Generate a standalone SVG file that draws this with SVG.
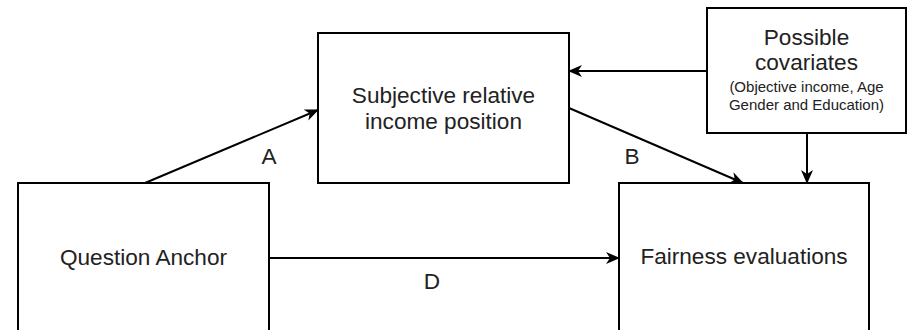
<svg xmlns="http://www.w3.org/2000/svg" width="913" height="330" viewBox="0 0 913 330">
<style>
.box{fill:#fff;stroke:#000;stroke-width:2}
.t{font-family:"Liberation Sans",Arial,sans-serif;font-size:22.6px;fill:#222;text-anchor:middle}
.s{font-family:"Liberation Sans",Arial,sans-serif;font-size:15px;fill:#222;text-anchor:middle}
.e{stroke:#000;stroke-width:2;fill:none;marker-end:url(#arr)}
</style>
<defs>
<marker id="arr" viewBox="0 0 14 14" refX="13" refY="7" markerWidth="14" markerHeight="14" markerUnits="userSpaceOnUse" orient="auto">
<path d="M0,1 L14,7 L0,13 L4,7 Z" fill="#000"/>
</marker>
</defs>
<rect width="913" height="330" fill="#fff"/>
<g id="connectors">
<path class="e" d="M145,183 L318,110"/>
<path class="e" d="M569,108 L743,183"/>
<path class="e" d="M707,71 L569,71"/>
<path class="e" d="M807,133 L807,183"/>
<path class="e" d="M269,258 L619,258"/>
<text class="t" x="269" y="164">A</text>
<text class="t" x="632" y="164">B</text>
<text class="t" x="432" y="289">D</text>
</g>
<g id="subjective">
<rect class="box" x="318" y="33" width="251" height="150"/>
<text class="t" x="443.5" y="103">Subjective relative</text>
<text class="t" x="443.5" y="129">income position</text>
</g>
<g id="covariates">
<rect class="box" x="707" y="8" width="199" height="125"/>
<text class="t" x="806.5" y="45">Possible</text>
<text class="t" x="806.5" y="70">covariates</text>
<text class="s" x="806.5" y="92">(Objective income, Age</text>
<text class="s" x="806.5" y="110">Gender and Education)</text>
</g>
<g id="anchor">
<rect class="box" x="18" y="183" width="251" height="150"/>
<text class="t" x="143.5" y="265">Question Anchor</text>
</g>
<g id="fairness">
<rect class="box" x="619" y="183" width="250" height="150"/>
<text class="t" x="744" y="264">Fairness evaluations</text>
</g>
</svg>
